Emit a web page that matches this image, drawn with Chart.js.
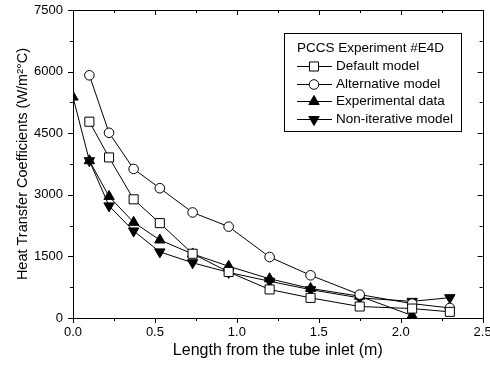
<!DOCTYPE html>
<html><head><meta charset="utf-8">
<script src="https://cdn.jsdelivr.net/npm/chart.js@4/dist/chart.umd.min.js"></script>
<style>html,body{margin:0;padding:0;background:#fff}</style>
</head><body>
<canvas id="c" width="490" height="365"></canvas>
<script>
const lengthsModel = [0.1, 0.22, 0.37, 0.53, 0.73, 0.95, 1.2, 1.45, 1.75, 2.07, 2.3];
const lengthsExp = [0, 0.1, 0.22, 0.37, 0.53, 0.73, 0.95, 1.2, 1.45, 1.75, 2.07];
const defaultModel = [4780, 3910, 2890, 2310, 1565, 1120, 695, 490, 280, 230, 150];
const alternativeModel = [5910, 4510, 3630, 3160, 2570, 2225, 1485, 1040, 570, 350, 245];
const experimentalData = [5380, 3830, 2960, 2330, 1900, 1560, 1260, 955, 720, 530, 60];
const nonIterativeModel = [3830, 2730, 2120, 1610, 1345, 1110, 895, 690, 490, 405, 495];
const xTickValues = [0, 0.5, 1.0, 1.5, 2.0, 2.5];
const yTickValues = [0, 1500, 3000, 4500, 6000, 7500];
const legendTitle = 'PCCS Experiment #E4D';
const seriesNames = ['Default model', 'Alternative model', 'Experimental data', 'Non-iterative model'];

const FONT = "'Liberation Sans', Arial, sans-serif";
const pts = (xs, ys) => xs.map((x, i) => ({x, y: ys[i]}));

const styles = [
  {pointStyle: 'rect', bg: '#fff', rot: 0, r: 6.4},
  {pointStyle: 'circle', bg: '#fff', rot: 0, r: 4.8},
  {pointStyle: 'triangle', bg: '#000', rot: 0, r: 6},
  {pointStyle: 'triangle', bg: '#000', rot: 180, r: 6}
];
const seriesData = [pts(lengthsModel, defaultModel), pts(lengthsModel, alternativeModel),
                    pts(lengthsExp, experimentalData), pts(lengthsModel, nonIterativeModel)];

const datasets = seriesNames.map((n, i) => ({
  label: n, data: seriesData[i], showLine: true,
  borderColor: '#000', borderWidth: 1,
  pointStyle: styles[i].pointStyle, pointRotation: styles[i].rot,
  pointBackgroundColor: styles[i].bg, pointBorderColor: '#000', pointBorderWidth: 1,
  pointRadius: styles[i].r, pointHoverRadius: styles[i].r
}));

const frame = {
  id: 'frame',
  afterDatasetsDraw(chart) {
    const {ctx, chartArea: a, scales: {x, y}} = chart;
    ctx.save();
    ctx.strokeStyle = '#000'; ctx.lineWidth = 1;
    ctx.beginPath();
    for (let k = 0; k <= 10; k++) {
      const v = k * 0.25;
      const px = Math.round(x.getPixelForValue(v)) + 0.5;
      const L = (k % 2 === 0) ? 5 : 3;
      ctx.moveTo(px, a.bottom); ctx.lineTo(px, a.bottom + L);
      ctx.moveTo(px, a.top); ctx.lineTo(px, a.top + L);
    }
    for (let k = 0; k <= 10; k++) {
      const v = k * 750;
      const py = Math.round(y.getPixelForValue(v)) + 0.5;
      const L = (k % 2 === 0) ? 5 : 3;
      ctx.moveTo(a.left, py); ctx.lineTo(a.left - L, py);
      ctx.moveTo(a.right, py); ctx.lineTo(a.right - L, py);
    }
    ctx.stroke();
    ctx.strokeRect(Math.round(a.left) + 0.5, Math.round(a.top) + 0.5,
                   Math.round(a.right - a.left), Math.round(a.bottom - a.top));
    // legend
    const bx = 284.5, by = 33.5, bw = 177, bh = 98;
    ctx.fillStyle = '#fff'; ctx.fillRect(bx, by, bw, bh);
    ctx.strokeRect(bx, by, bw, bh);
    ctx.fillStyle = '#000';
    ctx.font = '13.5px ' + FONT;
    ctx.textBaseline = 'middle'; ctx.textAlign = 'left';
    ctx.fillText(legendTitle, 297, 48);
    seriesNames.forEach((n, i) => {
      const yy = Math.round(66 + i * 17.7) + 0.5;
      ctx.strokeStyle = '#000';
      ctx.beginPath();
      ctx.moveTo(297, yy); ctx.lineTo(332, yy);
      ctx.stroke();
      const s = styles[i];
      ctx.fillStyle = s.bg; ctx.strokeStyle = '#000'; ctx.lineWidth = 1;
      Chart.helpers.drawPoint(ctx, {pointStyle: s.pointStyle, rotation: s.rot, radius: s.r, borderWidth: 1}, 314, yy);
      ctx.fillStyle = '#000';
      ctx.fillText(n, 336, yy);
    });
    ctx.restore();
  }
};

new Chart(document.getElementById('c'), {
  type: 'scatter',
  data: {datasets},
  options: {
    responsive: false, animation: false,
    layout: {padding: {left: 0, top: 10, right: 7, bottom: 0}},
    plugins: {legend: {display: false}, tooltip: {enabled: false}},
    scales: {
      x: {
        type: 'linear', min: 0, max: 2.5,
        afterBuildTicks: s => { s.ticks = xTickValues.map(v => ({value: v})); },
        afterFit: s => { s.height = 47; s.paddingLeft = 0; s.paddingRight = 0; },
        grid: {display: false, drawTicks: false, tickLength: 0}, border: {display: false},
        ticks: {color: '#000', font: {family: FONT, size: 13}, padding: 7,
                callback: v => Number(v).toFixed(1)},
        title: {display: true, text: 'Length from the tube inlet (m)', color: '#000',
                font: {family: FONT, size: 16}, padding: {top: 0, bottom: 5}}
      },
      y: {
        type: 'linear', min: 0, max: 7500,
        afterBuildTicks: s => { s.ticks = yTickValues.map(v => ({value: v})); },
        afterFit: s => { s.width = 73; s.paddingTop = 0; s.paddingBottom = 0; },
        grid: {display: false, drawTicks: false, tickLength: 0}, border: {display: false},
        ticks: {color: '#000', font: {family: FONT, size: 13}, padding: 10,
                callback: v => String(v)},
        title: {display: true, text: 'Heat Transfer Coefficients (W/m²°C)', color: '#000',
                font: {family: FONT, size: 14.5}, padding: {top: 14, bottom: 0}}
      }
    }
  },
  plugins: [frame]
});
</script>
</body></html>
